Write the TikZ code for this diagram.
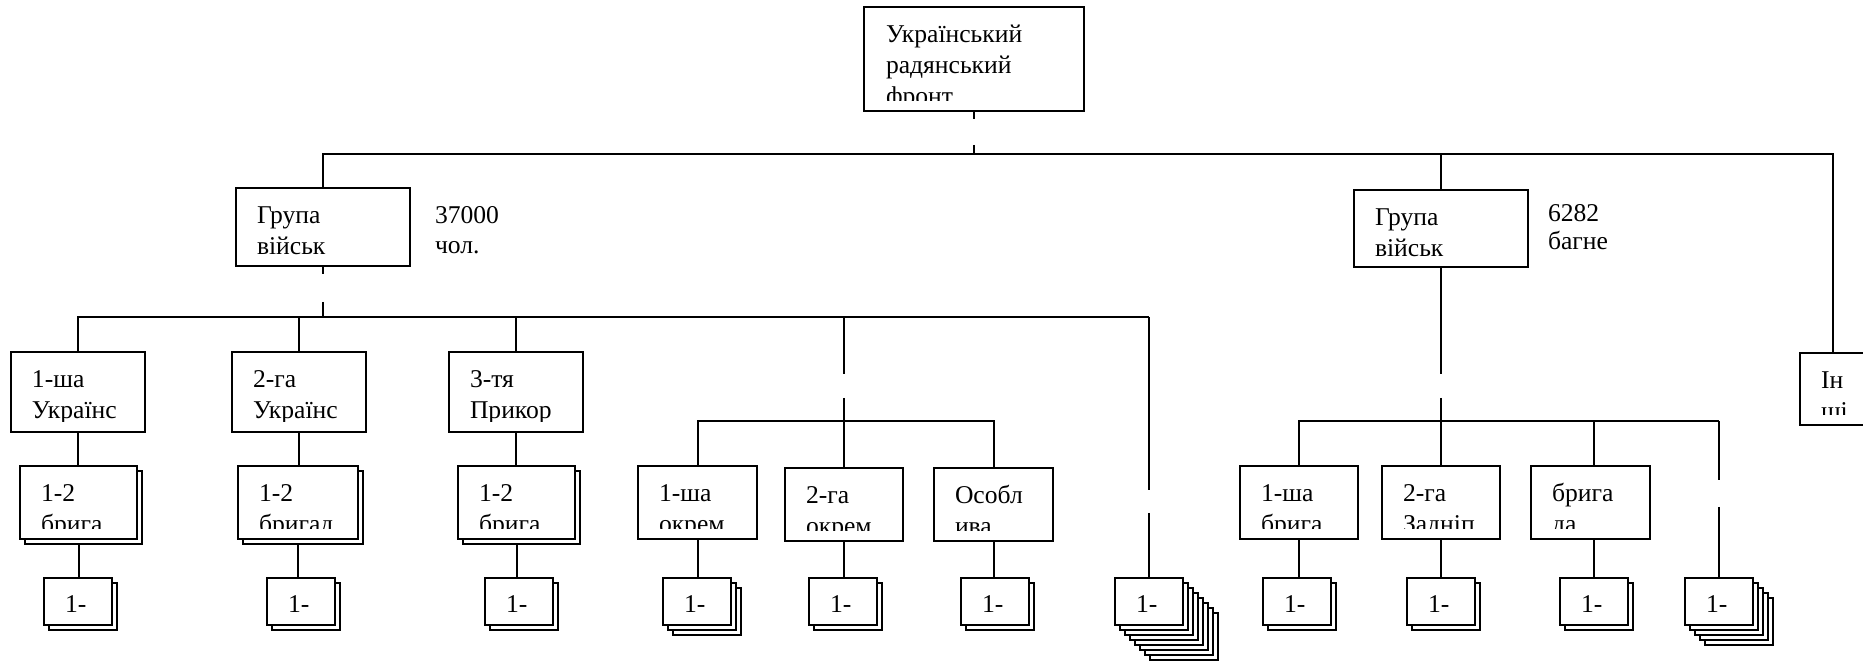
\documentclass[tikz,border=0pt]{standalone}
\usepackage{fontspec}
\setmainfont{Liberation Serif}
\usetikzlibrary{backgrounds}
\tikzset{
  boxst/.style={draw, line width=1pt, fill=white, rectangle, inner sep=0pt, outer sep=0pt},
  layer/.style={draw, line width=1pt, fill=white},
  txt/.style={inner sep=0pt, outer sep=0pt, font=\fontsize{12.8pt}{15.5pt}\selectfont, anchor=base west},
  conn/.style={line width=1pt},
}
% box with two text lines, clipped 10px above its bottom
\newcommand\Bx[7]{%
  \node[boxst, minimum width={(#4-#2)*0.5pt}, minimum height={(#5-#3)*0.5pt}] (#1) at ({(#2+#4)/2},{662-(#3+#5)/2}) {};
  \begin{scope}
    \clip (#2,{662-#3}) rectangle (#4,{672-#5});
    \node[txt] (#1-a) at ({#2+21},{626-#3}) {#6};
    \node[txt] (#1-b) at ({#2+21},{595-#3}) {#7};
  \end{scope}
}
% shadow layers behind a box
\newcommand\Sh[5]{%
  \foreach \k in {#5,...,1}{
    \draw[layer] ({#1+5*\k},{662-#2-5*\k}) rectangle ({#3+5*\k},{662-#4-5*\k});
  }
}
% small stacked box "1-"
\newcommand\Sm[3]{%
  \Sh{#2}{578}{#2+68}{625}{#3}
  \node[boxst, minimum width=34pt, minimum height=23.5pt, anchor=north west] (#1) at (#2,84) {};
  \node[txt] (#1-t) at ({#2+21},49) {1-};
}
\begin{document}
\begin{tikzpicture}[x=0.5pt,y=0.5pt]
\useasboundingbox (0,0) rectangle (1863,662);
\begin{pgfonlayer}{background}
  \fill[white] (0,0) rectangle (1863,662);
\end{pgfonlayer}

% top box
\node[boxst, minimum width=110pt, minimum height=52pt] (top) at (974,{662-59}) {};
\begin{scope}
  \clip (864,655) rectangle (1084,{662-101});
  \node[txt] (top-a) at (886,{662-43}) {Український};
  \node[txt] (top-b) at (886,{662-74}) {радянський};
  \node[txt] (top-c) at (886,{662-105}) {фронт};
\end{scope}

% groups
\Bx{lg}{236}{188}{410}{266}{Група}{військ}
\Bx{rg}{1354}{190}{1528}{267}{Група}{військ}
\node[txt] (n37a) at (435,{662-224}) {37000};
\node[txt] (n37b) at (435,{662-254}) {чол.};
\node[txt] (n62a) at (1548,{662-222}) {6282};
\node[txt] (n62b) at (1548,{662-250}) {багне};

% level 2 (left)
\Bx{l1}{11}{352}{145}{432}{1-ша}{Українс}
\Bx{l2}{232}{352}{366}{432}{2-га}{Українс}
\Bx{l3}{449}{352}{583}{432}{3-тя}{Прикор}
\Bx{inshi}{1800}{353}{1866}{425}{Ін}{ші}

% level 3
\Sh{20}{466}{137}{539}{1}
\Bx{b1}{20}{466}{137}{539}{1-2}{брига}
\Sh{238}{466}{358}{539}{1}
\Bx{b2}{238}{466}{358}{539}{1-2}{бригад}
\Sh{458}{466}{575}{539}{1}
\Bx{b3}{458}{466}{575}{539}{1-2}{брига}
\Bx{m1}{638}{466}{757}{539}{1-ша}{окрем}
\Bx{m2}{785}{468}{903}{541}{2-га}{окрем}
\Bx{m3}{934}{468}{1053}{541}{Особл}{ива}
\Bx{r1}{1240}{466}{1358}{539}{1-ша}{брига}
\Bx{r2}{1382}{466}{1500}{539}{2-га}{Задніп}
\Bx{r3}{1531}{466}{1650}{539}{брига}{да}

% level 4
\Sm{s1}{44}{1}
\Sm{s2}{267}{1}
\Sm{s3}{485}{1}
\Sm{s4}{663}{2}
\Sm{s5}{809}{1}
\Sm{s6}{961}{1}
\Sm{s7}{1115}{7}
\Sm{s8}{1263}{1}
\Sm{s9}{1407}{1}
\Sm{s10}{1560}{1}
\Sm{s11}{1685}{4}

% connectors
\coordinate (busT) at (974,508);
\coordinate (busL) at (322,345);
\coordinate (subM) at (842,241);
\coordinate (subR) at (1441,241);
\begin{pgfonlayer}{background}
  \draw[conn, dash pattern=on 4pt off 13pt on 40pt off 1pt] (top.south) -- (top.south |- busT);
  \draw[conn] (lg.north) |- (busT) -| (inshi.north);
  \draw[conn] (rg.north) -- (rg.north |- busT);

  \draw[conn, dash pattern=on 4pt off 14pt on 40pt off 1pt] (lg.south) -- (lg.south |- busL);
  \draw[conn] (l1.north) |- (busL) -- (busL -| s7.north);
  \draw[conn] (l2.north) -- (l2.north |- busL);
  \draw[conn] (l3.north) -- (l3.north |- busL);
  \draw[conn, dash pattern=on 86.5pt off 11.5pt on 80pt off 1pt] (busL -| s7.north) -- (s7.north);
  \draw[conn, dash pattern=on 28.5pt off 12pt on 80pt off 1pt] (busL -| m2.north) -- (m2.north);
  \draw[conn] (m1.north) |- (subM) -| (m3.north);

  \draw[conn, dash pattern=on 53.5pt off 12pt on 90pt off 1pt] (rg.south) -- (rg.south |- r2.north);
  \draw[conn] (r1.north) |- (subR) -- (subR -| s11.north);
  \draw[conn] (s10.north |- subR) -- (s10.north |- r3.north);
  \draw[conn, dash pattern=on 29.5pt off 13.5pt on 80pt off 1pt] (subR -| s11.north) -- (s11.north);

  \draw[conn] (l1.south) -- (l1.south |- b1.north);
  \draw[conn] (l2.south) -- (l2.south |- b2.north);
  \draw[conn] (l3.south) -- (l3.south |- b3.north);
  \draw[conn] (b1.south) -- (b1.south |- s1.north);
  \draw[conn] (b2.south) -- (b2.south |- s2.north);
  \draw[conn] (b3.south) -- (b3.south |- s3.north);
  \draw[conn] (m1.south) -- (m1.south |- s4.north);
  \draw[conn] (m2.south) -- (m2.south |- s5.north);
  \draw[conn] (m3.south) -- (m3.south |- s6.north);
  \draw[conn] (r1.south) -- (r1.south |- s8.north);
  \draw[conn] (r2.south) -- (r2.south |- s9.north);
  \draw[conn] (s10.north |- r3.south) -- (s10.north);
\end{pgfonlayer}
\end{tikzpicture}
\end{document}
